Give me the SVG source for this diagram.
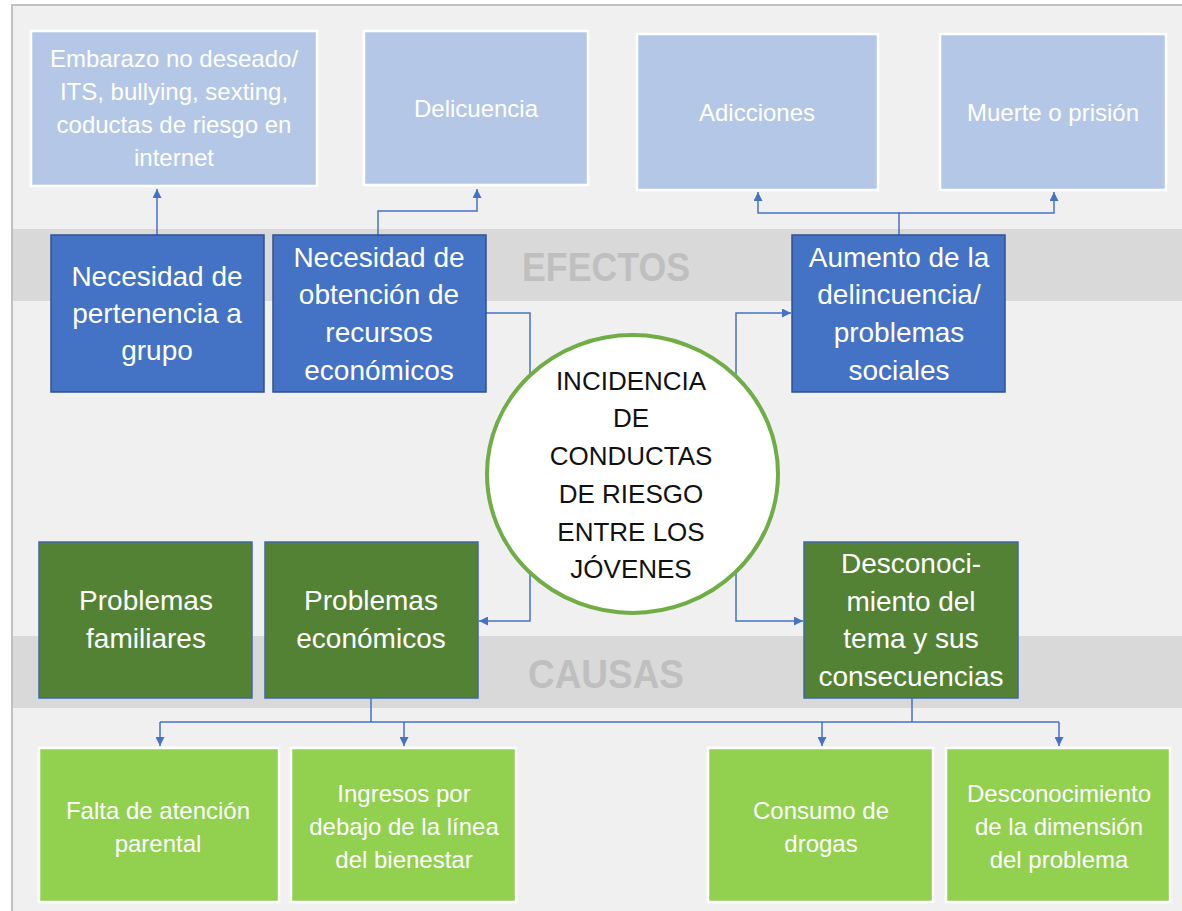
<svg xmlns="http://www.w3.org/2000/svg" width="1182" height="911" viewBox="0 0 1182 911">
<style>
text{font-family:"Liberation Sans",Arial,sans-serif;text-anchor:middle}
.lb{fill:#b4c7e7;stroke:#ffffff;stroke-width:2.5}
.db{fill:#4472c4;stroke:#2f528f;stroke-width:1.5}
.dg{fill:#548235;stroke:#3f67b0;stroke-width:1.5}
.lg{fill:#92d050;stroke:#ffffff;stroke-width:2.5}
.t-l{fill:#ffffff;font-size:24px}
.t-d{fill:#ffffff;font-size:28px}
.t-c{fill:#111111;font-size:26px}
.band{fill:#d9d9d9}
.bandtxt{fill:#bfbfbf;font-size:40px;font-weight:bold}
.con{fill:none;stroke:#4472c4;stroke-width:1.5}
</style>
<defs>
<marker id="ah" viewBox="0 0 10 10" refX="10" refY="5" markerWidth="9" markerHeight="9" markerUnits="userSpaceOnUse" orient="auto">
<path d="M0,0 L10,5 L0,10 z" fill="#4472c4"/>
</marker>
</defs>
<rect x="0" y="0" width="1182" height="911" fill="#ffffff"/>
<rect x="12" y="5" width="1172" height="910" fill="#f0f0f0" stroke="#c0c0c0" stroke-width="2"/>
<g id="band-efectos">
<rect class="band" x="13" y="229" width="1169" height="72"/>
<text class="bandtxt" x="606" y="281" textLength="168" lengthAdjust="spacingAndGlyphs">EFECTOS</text>
</g>
<g id="band-causas">
<rect class="band" x="13" y="636" width="1169" height="72"/>
<text class="bandtxt" x="606" y="688" textLength="156" lengthAdjust="spacingAndGlyphs">CAUSAS</text>
</g>
<g id="connectors">
<path class="con" d="M157,235 V189" marker-end="url(#ah)"/>
<path class="con" d="M378,235 V211 H477 V189" marker-end="url(#ah)"/>
<path class="con" d="M486,313 H530 V621 H479" marker-end="url(#ah)"/>
<path class="con" d="M736,474 V313 H791" marker-end="url(#ah)"/>
<path class="con" d="M736,474 V621 H803" marker-end="url(#ah)"/>
<path class="con" d="M899,235 V213 H758 V192" marker-end="url(#ah)"/>
<path class="con" d="M899,213 H1054 V192" marker-end="url(#ah)"/>
<path class="con" d="M371,698 V722"/>
<path class="con" d="M912,698 V722"/>
<path class="con" d="M160,722 H1059"/>
<path class="con" d="M160,722 V746" marker-end="url(#ah)"/>
<path class="con" d="M404,722 V746" marker-end="url(#ah)"/>
<path class="con" d="M822,722 V746" marker-end="url(#ah)"/>
<path class="con" d="M1059,722 V746" marker-end="url(#ah)"/>
</g>
<g id="e-embarazo">
<rect class="lb" x="31" y="31" width="286" height="155"/>
<text class="t-l" x="174" y="67">Embarazo no deseado/</text>
<text class="t-l" x="174" y="100">ITS, bullying, sexting,</text>
<text class="t-l" x="174" y="133">coductas de riesgo en</text>
<text class="t-l" x="174" y="166">internet</text>
</g>
<g id="e-delicuencia">
<rect class="lb" x="364" y="31" width="224" height="154"/>
<text class="t-l" x="476" y="117">Delicuencia</text>
</g>
<g id="e-adicciones">
<rect class="lb" x="637" y="34" width="241" height="156"/>
<text class="t-l" x="757" y="121">Adicciones</text>
</g>
<g id="e-muerte">
<rect class="lb" x="940" y="34" width="226" height="156"/>
<text class="t-l" x="1053" y="121">Muerte o prisión</text>
</g>
<g id="e-pertenencia">
<rect class="db" x="51" y="235" width="213" height="157"/>
<text class="t-d" x="157" y="286">Necesidad de</text>
<text class="t-d" x="157" y="323">pertenencia a</text>
<text class="t-d" x="157" y="360">grupo</text>
</g>
<g id="e-recursos">
<rect class="db" x="273" y="235" width="213" height="157"/>
<text class="t-d" x="379" y="267">Necesidad de</text>
<text class="t-d" x="379" y="304">obtención de</text>
<text class="t-d" x="379" y="342">recursos</text>
<text class="t-d" x="379" y="380">económicos</text>
</g>
<g id="e-aumento">
<rect class="db" x="792" y="235" width="213" height="157"/>
<text class="t-d" x="899" y="267">Aumento de la</text>
<text class="t-d" x="899" y="304">delincuencia/</text>
<text class="t-d" x="899" y="342">problemas</text>
<text class="t-d" x="899" y="380">sociales</text>
</g>
<g id="center">
<ellipse cx="632.5" cy="474" rx="145.5" ry="139" fill="#ffffff" stroke="#70ad47" stroke-width="4"/>
<text class="t-c" x="631" y="390">INCIDENCIA</text>
<text class="t-c" x="631" y="427">DE</text>
<text class="t-c" x="631" y="465">CONDUCTAS</text>
<text class="t-c" x="631" y="503">DE RIESGO</text>
<text class="t-c" x="631" y="541">ENTRE LOS</text>
<text class="t-c" x="631" y="578">JÓVENES</text>
</g>
<g id="c-familiares">
<rect class="dg" x="39" y="542" width="213" height="156"/>
<text class="t-d" x="146" y="610">Problemas</text>
<text class="t-d" x="146" y="648">familiares</text>
</g>
<g id="c-economicos">
<rect class="dg" x="265" y="542" width="213" height="156"/>
<text class="t-d" x="371" y="610">Problemas</text>
<text class="t-d" x="371" y="648">económicos</text>
</g>
<g id="c-desconocimiento">
<rect class="dg" x="804" y="542" width="214" height="156"/>
<text class="t-d" x="911" y="573">Desconoci-</text>
<text class="t-d" x="911" y="611">miento del</text>
<text class="t-d" x="911" y="648">tema y sus</text>
<text class="t-d" x="911" y="686">consecuencias</text>
</g>
<g id="c-falta">
<rect class="lg" x="39" y="748" width="240" height="154"/>
<text class="t-l" x="158" y="819">Falta de atención</text>
<text class="t-l" x="158" y="852">parental</text>
</g>
<g id="c-ingresos">
<rect class="lg" x="291" y="748" width="225" height="154"/>
<text class="t-l" x="404" y="802">Ingresos por</text>
<text class="t-l" x="404" y="835">debajo de la línea</text>
<text class="t-l" x="404" y="868">del bienestar</text>
</g>
<g id="c-consumo">
<rect class="lg" x="708" y="748" width="225" height="154"/>
<text class="t-l" x="821" y="819">Consumo de</text>
<text class="t-l" x="821" y="852">drogas</text>
</g>
<g id="c-dimension">
<rect class="lg" x="946" y="748" width="224" height="154"/>
<text class="t-l" x="1059" y="802">Desconocimiento</text>
<text class="t-l" x="1059" y="835">de la dimensión</text>
<text class="t-l" x="1059" y="868">del problema</text>
</g>
</svg>
